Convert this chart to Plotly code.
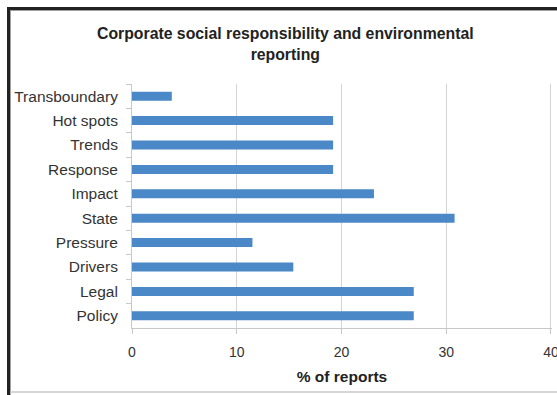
import plotly.graph_objects as go

# values (% of reports)
categories = ["Transboundary", "Hot spots", "Trends", "Response", "Impact",
              "State", "Pressure", "Drivers", "Legal", "Policy"]
percent = [3.8, 19.2, 19.2, 19.2, 23.1, 30.8, 11.5, 15.4, 26.9, 26.9]
x_ticks = [0, 10, 20, 30, 40]
title = "Corporate social responsibility and environmental<br>reporting"

W, H = 557, 395
L, R, T, B = 132, 5, 84, 67
pw, ph = W - L - R, H - T - B


def px_x(x):
    # x in pixels of the picture -> paper coords
    return (x - L) / pw


def px_y(y):
    return (H - B - y) / ph


fig = go.Figure()
fig.add_trace(go.Bar(
    x=percent, y=categories, orientation="h",
    marker=dict(color="#4a88c7", line=dict(width=0)),
    width=0.37,
))

# frame around the chart (cropped on the right in the original)
frame = [
    dict(x0=px_x(8.5), x1=px_x(8.5), y0=px_y(7), y1=px_y(395), color="#222222", w=3),
    dict(x0=px_x(7), x1=px_x(557), y0=px_y(8.5), y1=px_y(8.5), color="#222222", w=3),
    dict(x0=px_x(10.5), x1=px_x(10.5), y0=px_y(10), y1=px_y(395), color="#a0a0a0", w=1),
    dict(x0=px_x(10), x1=px_x(557), y0=px_y(10.5), y1=px_y(10.5), color="#a0a0a0", w=1),
    dict(x0=px_x(10), x1=px_x(557), y0=px_y(392), y1=px_y(392), color="#c8c8c8", w=1.5),
]
for f in frame:
    fig.add_shape(type="line", xref="paper", yref="paper",
                  x0=f["x0"], x1=f["x1"], y0=f["y0"], y1=f["y1"],
                  line=dict(color=f["color"], width=f["w"]))

fig.add_annotation(
    text="<b>" + title + "</b>", xref="paper", yref="paper",
    x=px_x(285.5), y=px_y(44), xanchor="center", yanchor="middle",
    showarrow=False, font=dict(size=15.8, color="#222222"),
)

fig.update_layout(
    width=W, height=H,
    margin=dict(l=L, r=R, t=T, b=B, autoexpand=False),
    paper_bgcolor="white", plot_bgcolor="white",
    font=dict(family="Liberation Sans, Arial, sans-serif", size=14, color="#333333"),
    showlegend=False,
)
fig.update_xaxes(
    range=[0, 40.1], tickvals=x_ticks, ticks="outside", ticklen=5,
    tickcolor="#c8c8c8", showgrid=True, gridcolor="#d4d4d4", gridwidth=1,
    showline=True, linecolor="#c8c8c8", linewidth=1, zeroline=False,
    tickfont=dict(size=14), ticklabelstandoff=6, automargin=False,
    ticklabeloverflow="allow",
    title=dict(text="<b>% of reports</b>", font=dict(size=15.5, color="#222222"), standoff=12),
)
fig.update_yaxes(
    autorange="reversed", ticks="outside", ticklen=5, tickson="boundaries",
    tickcolor="#c8c8c8", showline=True, linecolor="#c8c8c8", linewidth=1,
    showgrid=False, tickfont=dict(size=15.5), ticklabelstandoff=10, automargin=False,
)

# drop the default 8px body margin so the figure fills the window
fig.write_html("out.html", config={"displayModeBar": False},
               post_script="document.body.style.margin='0';document.body.style.overflow='hidden';")
